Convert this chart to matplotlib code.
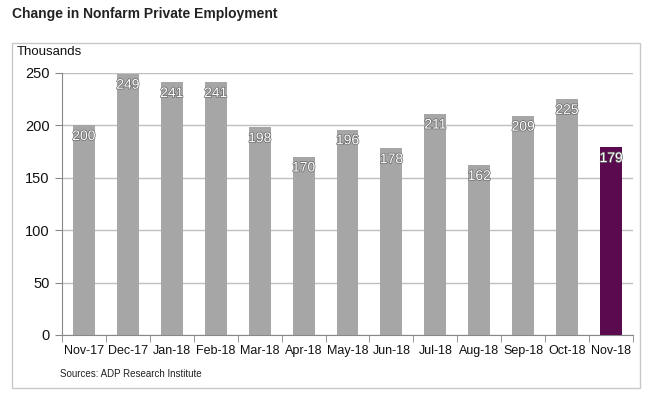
import matplotlib
matplotlib.use("Agg")
import matplotlib.pyplot as plt
import matplotlib.patheffects as pe
from matplotlib.patches import Rectangle

plt.rcParams['font.family'] = ['Liberation Sans', 'DejaVu Sans']

months = ["Nov-17", "Dec-17", "Jan-18", "Feb-18", "Mar-18", "Apr-18", "May-18",
          "Jun-18", "Jul-18", "Aug-18", "Sep-18", "Oct-18", "Nov-18"]
values = [200, 249, 241, 241, 198, 170, 196, 178, 211, 162, 209, 225, 179]
yticks = [0, 50, 100, 150, 200, 250]

W, H = 658, 393
fig = plt.figure(figsize=(W/100, H/100), dpi=100)

# outer frame
fig.patches.append(Rectangle((12/W, 1-388/H), (640-12)/W, (388-43)/H,
                             transform=fig.transFigure, fill=False,
                             edgecolor='#C8C8C8', linewidth=1))

ax = fig.add_axes([62/W, 1-335/H, (633-62)/W, (335-73)/H])
colors = ['#A6A6A6'] * (len(values) - 1) + ['#5C0A50']
x = list(range(len(values)))
ax.bar(x, values, width=0.5, color=colors, zorder=3)
ax.set_xlim(-0.5, len(values) - 0.5)
ax.set_ylim(0, 250)
ax.set_yticks(yticks)
ax.set_yticklabels([str(v) for v in yticks], fontsize=10.5, color='#111111')
ax.set_xticks(x)
ax.set_xticklabels(months, fontsize=9, color='#111111')
ax.set_xticks([i - 0.5 for i in range(len(values) + 1)], minor=True)
ax.tick_params(axis='x', which='major', length=0, pad=7)
ax.tick_params(axis='x', which='minor', length=5, color='#888888', direction='out')
ax.tick_params(axis='y', length=5, color='#888888', direction='out', pad=4)
ax.grid(axis='y', color='#BFBFBF', linewidth=1, zorder=0)
for s in ['top', 'right']:
    ax.spines[s].set_visible(False)
ax.spines['left'].set_color('#888888')
ax.spines['bottom'].set_color('#888888')

for xi, v in zip(x, values):
    ax.text(xi, v - 3.5, str(v), ha='center', va='top', fontsize=10, color='white',
            zorder=4, path_effects=[pe.withStroke(linewidth=1.0, foreground='#666666')])

fig.text(12/W, 1-14/H, "Change in Nonfarm Private Employment", fontsize=10,
         fontweight='bold', color='#222222', ha='left', va='center')
fig.text(17/W, 1-52/H, "Thousands", fontsize=9.5, color='#111111', ha='left', va='center')
fig.text(60/W, 1-374/H, "Sources: ADP Research Institute", fontsize=7, color='#222222',
         ha='left', va='center')

fig.savefig("out.png", dpi=100)
